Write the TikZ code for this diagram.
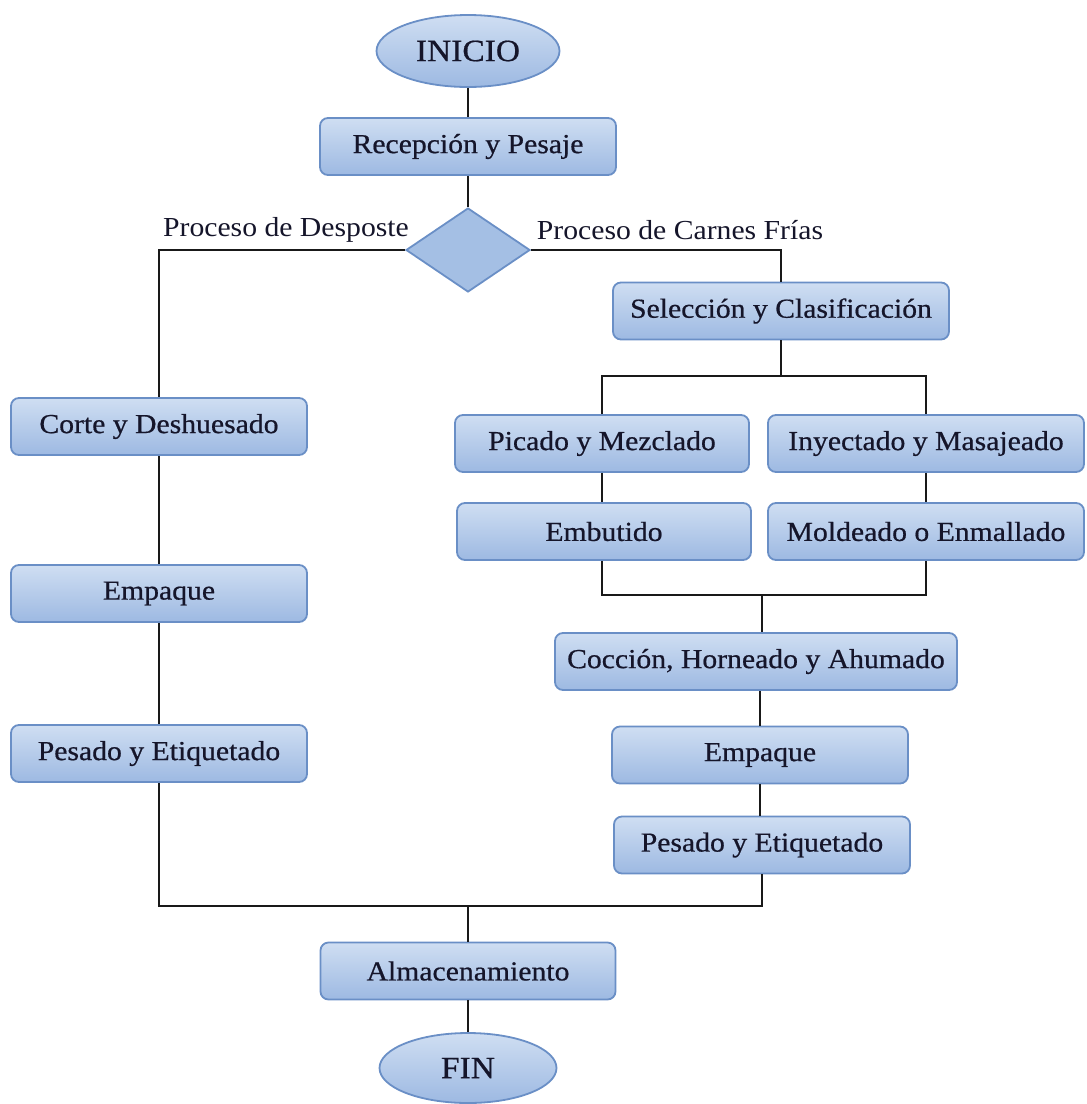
\documentclass[tikz,border=0pt]{standalone}
\usepackage{fontspec}
\setmainfont[FakeStretch=1.08]{Liberation Serif}
\newfontfamily\boxfont[FakeStretch=1.08, UprightFeatures={FakeBold=0.6}]{Liberation Serif}
\usetikzlibrary{shapes.geometric}
\definecolor{boxtop}{HTML}{CFDEF2}
\definecolor{boxbot}{HTML}{9DB9E2}
\definecolor{boxline}{HTML}{6A8FC6}
\definecolor{inktext}{HTML}{15152A}
\begin{document}
\begin{tikzpicture}[x=1pt,y=-1pt,
  every node/.style={text=inktext},
  procbox/.style={rectangle, rounded corners=8pt, draw=boxline, line width=1.8pt,
    top color=boxtop, bottom color=boxbot, minimum height=57pt, inner sep=0pt,
    font=\boxfont\fontsize{27.5}{30}\selectfont},
  termnode/.style={ellipse, draw=boxline, line width=1.8pt,
    top color=boxtop, bottom color=boxbot, inner sep=0pt,
    font=\boxfont\fontsize{31}{34}\selectfont},
  decide/.style={diamond, draw=boxline, line width=1.8pt, fill=boxbot!85!boxtop,
    minimum width=124pt, minimum height=84pt, inner sep=0pt, aspect=1.48},
  link/.style={draw=black!90, line width=2.5pt},
  lbl/.style={inner sep=0pt, font=\fontsize{27.5}{30}\selectfont}]
\useasboundingbox (0,0) rectangle (1087,1104);

% terminals
\node[termnode, minimum width=183pt, minimum height=72pt] (inicio) at (468,51) {INICIO};
\node[termnode, minimum width=177pt, minimum height=70pt] (fin) at (468,1068) {FIN};

% main trunk
\node[procbox, minimum width=296pt] (recep) at (468,146.5) {Recepción y Pesaje};
\node[decide] (dec) at (468,250) {};
\node[procbox, minimum width=295pt] (almac) at (468,971) {Almacenamiento};

% left branch: desposte
\node[procbox, minimum width=296pt] (corte) at (159,426.5) {Corte y Deshuesado};
\node[procbox, minimum width=296pt] (empL) at (159,593.5) {Empaque};
\node[procbox, minimum width=296pt] (pesL) at (159,753.5) {Pesado y Etiquetado};

% right branch: carnes frias
\node[procbox, minimum width=336pt] (selec) at (781,311) {Selección y Clasificación};
\node[procbox, minimum width=294pt] (picado) at (602,443.5) {Picado y Mezclado};
\node[procbox, minimum width=294pt] (embut) at (604,531.5) {Embutido};
\node[procbox, minimum width=316pt] (inyect) at (926,443.5) {Inyectado y Masajeado};
\node[procbox, minimum width=316pt] (molde) at (926,531.5) {Moldeado o Enmallado};
\node[procbox, minimum width=402pt] (cocc) at (756,661.5) {Cocción, Horneado y Ahumado};
\node[procbox, minimum width=296pt] (empR) at (760,755) {Empaque};
\node[procbox, minimum width=296pt] (pesR) at (762,845) {Pesado y Etiquetado};

% branch labels
\node[lbl] (lblL) at (286,230) {Proceso de Desposte};
\node[lbl] (lblR) at (680,230) {Proceso de Carnes Frías};

% junction points
\coordinate (splitTop) at (781,376);
\coordinate (splitBot) at (762,595);
\coordinate (merge) at (468,906);

% connectors
\draw[link] (inicio.south) -- (recep.north);
\draw[link] (recep.south) -- (dec.north);
\draw[link] (dec.west) -- (corte.north |- dec.west) -- (corte.north);
\draw[link] (dec.east) -- (selec.north |- dec.east) -- (selec.north);
\draw[link] (corte.south) -- (empL.north);
\draw[link] (empL.south) -- (pesL.north);
\draw[link] (selec.south) -- (splitTop);
\draw[link] (picado.north) -- (picado.north |- splitTop) -- (inyect.north |- splitTop) -- (inyect.north);
\draw[link] (picado.south) -- (picado.south |- embut.north);
\draw[link] (inyect.south) -- (inyect.south |- molde.north);
\draw[link] (picado.south |- embut.south) -- (picado.south |- splitBot) -- (molde.south |- splitBot) -- (molde.south);
\draw[link] (splitBot) -- (cocc.north -| splitBot);
\draw[link] (cocc.south -| empR.north) -- (empR.north);
\draw[link] (empR.south) -- (pesR.north -| empR.south);
\draw[link] (pesL.south) -- (pesL.south |- merge) -- (pesR.south |- merge) -- (pesR.south);
\draw[link] (merge) -- (almac.north);
\draw[link] (almac.south) -- (fin.north);
\end{tikzpicture}
\end{document}
